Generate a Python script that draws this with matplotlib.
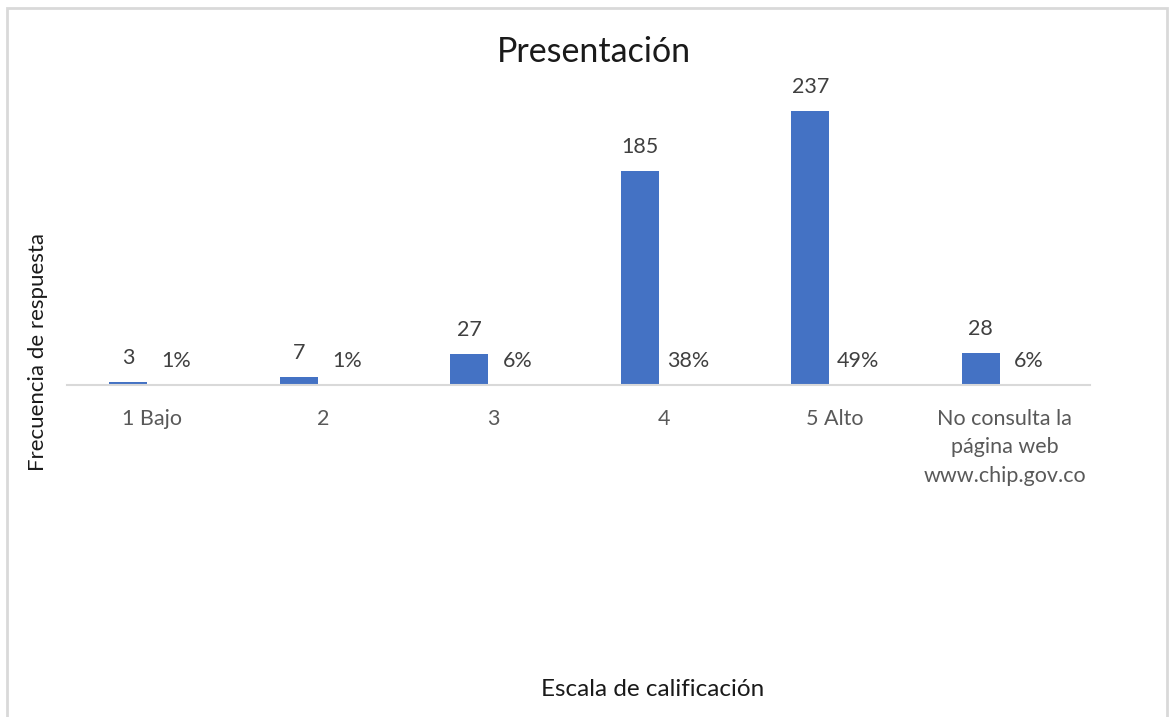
import matplotlib.pyplot as plt
import matplotlib.patches as mpatches
import numpy as np

categories = ['1 Bajo', '2', '3', '4', '5 Alto',
              'No consulta la\npágina web\nwww.chip.gov.co']
frequency = [3, 7, 27, 185, 237, 28]
percent = [0.01, 0.01, 0.06, 0.38, 0.49, 0.06]

plt.rcParams['font.family'] = ['Lato', 'DejaVu Sans']

W, H = 1172, 717
fig = plt.figure(figsize=(W / 100, H / 100), dpi=100)
ax = fig.add_axes([67 / W, (H - 385) / H, (1090 - 67) / W, (385 - 80) / H])

x = np.arange(len(categories))
bar_w = 38 / 170.5
off = 24 / 170.5
b1 = ax.bar(x - off, frequency, width=bar_w, color='#4472C4')
b2 = ax.bar(x + off, percent, width=bar_w, color='#ED7D31')

ax.bar_label(b1, labels=[str(v) for v in frequency], padding=10,
             fontsize=15.5, color='#404040')
ax.bar_label(b2, labels=['{:.0%}'.format(v) for v in percent], padding=10,
             fontsize=15.5, color='#404040')

ax.set_xlim(-0.5, len(categories) - 0.5)
ax.set_ylim(0, 264)
ax.set_xticks(x)
ax.set_xticklabels(categories, fontsize=15.5, color='#595959', linespacing=1.55)
ax.tick_params(axis='x', length=0, pad=17)
ax.set_yticks([])
for s in ['top', 'left', 'right']:
    ax.spines[s].set_visible(False)
ax.spines['bottom'].set_color('#D9D9D9')
ax.spines['bottom'].set_linewidth(1.5)

fig.text(594 / W, 1 - 52 / H, 'Presentación', fontsize=24.5, color='#1a1a1a',
         ha='center', va='center')
fig.text(653 / W, 1 - 690 / H, 'Escala de calificación', fontsize=17.5,
         color='#1a1a1a', ha='center', va='center')
fig.text(38 / W, 1 - 352 / H, 'Frecuencia de respuesta', fontsize=16,
         color='#1a1a1a', ha='center', va='center', rotation=90)

border = mpatches.Rectangle((7 / W, -0.1), (1167 - 7) / W, 1.1 - 8 / H,
                            transform=fig.transFigure, fill=False,
                            edgecolor='#D9D9D9', linewidth=2)
fig.patches.append(border)

fig.savefig('out.png', dpi=100)
